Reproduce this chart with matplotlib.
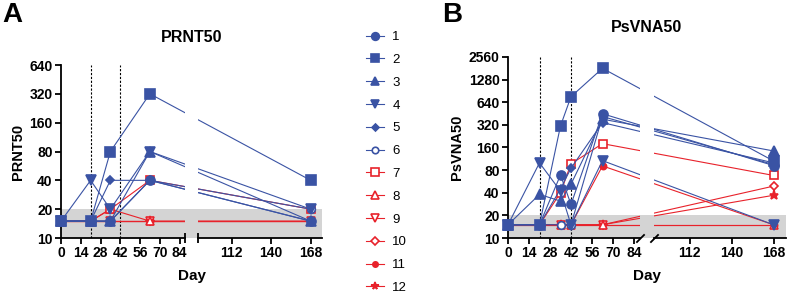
import numpy as np
import matplotlib.pyplot as plt
from matplotlib.lines import Line2D
from matplotlib.patches import Rectangle
from matplotlib.transforms import blended_transform_factory

plt.rcParams['font.family'] = ['Liberation Sans', 'DejaVu Sans']

BLUE = '#3A53A4'
RED = '#E8222B'
BAND = '#d4d4d4'

# broken x axis: days after BRK are pushed right by GAP
BRK = 88.0
GAP = 9.0

labels = [str(i) for i in range(1, 13)]
markers = ['o', 's', '^', 'v', 'D', 'o', 's', '^', 'v', 'D', 'o', '*']
filled = [True, True, True, True, True, False, False, False, False, False, True, True]
msizes = [6.5, 6.5, 6.5, 6.5, 4.2, 5.5, 6.2, 6.2, 6.2, 4.5, 4.5, 6.5]

# PRNT50 titers (values below LOD plotted at 15)
days_a = [0, 21, 35, 63, 168]
prnt50 = [
    [15, 15, 15, 40, 15],
    [15, 15, 80, 320, 40],
    [15, 15, 15, 80, 15],
    [15, 40, 20, 80, 20],
    [15, 15, 40, 40, 15],
    [15, 15, 15, 40, 20],
    [15, 15, 20, 40, 20],
    [15, 15, 20, 15, 15],
    [15, 15, 15, 15, 15],
    [15, 15, 15, 15, 15],
    [15, 15, 15, 15, 15],
    [15, 15, 15, 15, 15],
]

# PsVNA50 titers
days_b = [0, 21, 35, 42, 63, 168]
psvna50 = [
    [15, 15, 69, 28, 450, 92],
    [15, 15, 310, 760, 1810, 106],
    [15, 38, 31, 52, 381, 144],
    [15, 100, 42, 15, 107, 15],
    [15, 15, 45, 85, 343, 100],
    [15, 15, 15, 15, 413, 95],
    [15, 15, 40, 97, 180, 68],
    [15, 15, 15, 15, 15, 15],
    [15, 15, 15, 15, 15, 15],
    [15, 15, 15, 15, 15, 49],
    [15, 15, 15, 15, 91, 15],
    [15, 15, 15, 15, 15, 37],
]

xticks = [0, 14, 28, 42, 56, 70, 84, 112, 140, 168]
yticks_a = [10, 20, 40, 80, 160, 320, 640]
yticks_b = [10, 20, 40, 80, 160, 320, 640, 1280, 2560]


def fwd(x):
    x = np.asarray(x, dtype=float)
    return np.where(x > BRK, x + GAP, x)


def inv(x):
    x = np.asarray(x, dtype=float)
    return np.where(x > BRK + GAP, x - GAP, np.minimum(x, BRK))


def style(i):
    col = BLUE if i < 6 else RED
    return dict(color=col, marker=markers[i], ms=msizes[i], mec=col,
                mfc=col if filled[i] else 'white', mew=1.2, lw=0.8)


def panel(ax, days, vals, yticks, brk_marker):
    ymax = yticks[-1]
    ax.set_xscale('function', functions=(fwd, inv))
    ax.set_yscale('log', base=2)

    ax.axhspan(10, 20, color=BAND, lw=0, zorder=0)
    for d in (21, 42):
        ax.axvline(d, color='k', ls=(0, (2, 1.5)), lw=0.8, zorder=1)

    # later subjects underneath, subject 1 on top
    for i in reversed(range(12)):
        ax.plot(days, vals[i], zorder=10 + (12 - i), clip_on=False, **style(i))

    # blank out lines inside the break
    ax.add_patch(Rectangle((BRK, 20), 0.001, ymax - 20, color='white', lw=0, zorder=30))
    ax.add_patch(Rectangle((BRK, 10), 0.001, 10, color=BAND, lw=0, zorder=30))

    # bottom axis drawn in two pieces
    tr = blended_transform_factory(ax.transData, ax.transAxes)
    for x0, x1 in [(0, BRK), (BRK + 0.001, 176)]:
        ax.plot([x0, x1], [0, 0], transform=tr, color='k', lw=1.3,
                clip_on=False, zorder=60)
    ax.plot([BRK, BRK + 0.001], [10, 10], ls='none', marker=brk_marker,
            ms=7 if brk_marker == '|' else 6, mew=1.3, color='k',
            clip_on=False, zorder=61)

    ax.set_xlim(0, 176)
    ax.set_ylim(10, ymax)
    for s in ('top', 'right', 'bottom'):
        ax.spines[s].set_visible(False)
    ax.spines['left'].set_linewidth(1.3)
    ax.set_xticks(xticks, [str(t) for t in xticks], fontweight='bold')
    ax.set_yticks(yticks, [str(t) for t in yticks], fontweight='bold')
    ax.minorticks_off()
    ax.tick_params(direction='out', length=4, width=1.3, labelsize=10, pad=2)


fig = plt.figure(figsize=(7.87, 3.0), dpi=100)
axA = fig.add_axes([61 / 787, 62 / 300, 261 / 787, 173 / 300])
axB = fig.add_axes([508 / 787, 62 / 300, 277.5 / 787, 181 / 300])

panel(axA, days_a, prnt50, yticks_a, '|')
panel(axB, days_b, psvna50, yticks_b, [(-1, -1), (1, 1)])

fig.text(12 / 787, 1 - 15 / 300, 'A', fontsize=20, fontweight='bold', ha='center', va='center')
fig.text(452 / 787, 1 - 15 / 300, 'B', fontsize=20, fontweight='bold', ha='center', va='center')
fig.text(192 / 787, 1 - 37 / 300, 'PRNT50', fontsize=11.5, fontweight='bold', ha='center', va='center')
fig.text(647 / 787, 1 - 27 / 300, 'PsVNA50', fontsize=11.5, fontweight='bold', ha='center', va='center')
fig.text(18 / 787, 1 - 152 / 300, 'PRNT50', fontsize=10.5, fontweight='bold', rotation=90, ha='center', va='center')
fig.text(457 / 787, 1 - 147 / 300, 'PsVNA50', fontsize=10.5, fontweight='bold', rotation=90, ha='center', va='center')
fig.text(192 / 787, 1 - 276 / 300, 'Day', fontsize=11, fontweight='bold', ha='center', va='center')
fig.text(647 / 787, 1 - 276 / 300, 'Day', fontsize=11, fontweight='bold', ha='center', va='center')

handles = [Line2D([], [], **style(i)) for i in range(12)]
fig.legend(handles, labels, loc='upper left', bbox_to_anchor=(366 / 787, 1 - 31 / 300),
           frameon=False, fontsize=9.5, handlelength=1.4, handletextpad=0.6,
           labelspacing=0.8, borderpad=0, borderaxespad=0, markerscale=0.85)

fig.savefig('out.png', dpi=100)
